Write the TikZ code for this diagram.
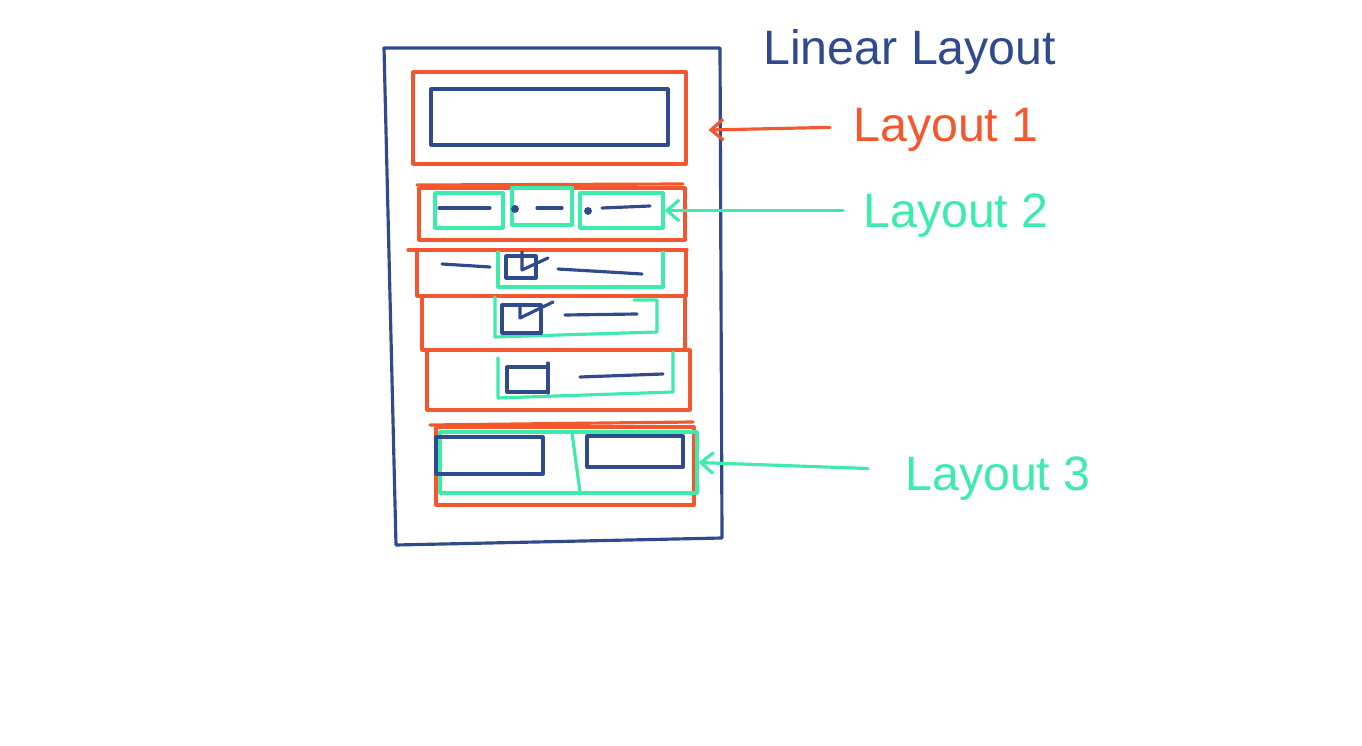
\documentclass[tikz,border=0pt]{standalone}
\usepackage{fontspec}
\setmainfont{Liberation Sans}
\usepackage{tikz}
\usetikzlibrary{calc}
\usetikzlibrary{fit}
\usetikzlibrary{arrows.meta}
\definecolor{navy}{RGB}{47,74,143}
\definecolor{tomato}{RGB}{244,87,46}
\definecolor{mint}{RGB}{61,235,170}
\tikzset{
  pen/.style={line width=1.8pt,line cap=round,line join=round},
  nbox/.style={pen,draw=navy,inner sep=0pt},
  obox/.style={pen,draw=tomato,inner sep=0pt},
  gbox/.style={pen,draw=mint,inner sep=0pt},
  lbl/.style={anchor=base west,inner sep=0pt,font=\fontsize{27.5}{30}\selectfont},
  dot/.style={circle,fill=navy,inner sep=0pt,minimum size=4.5pt}
}
\begin{document}
\begin{tikzpicture}[x=0.02cm,y=-0.02cm,>={Straight Barb[length=7pt,width=12pt,line width=1.8pt]}]
\useasboundingbox (0,0) rectangle (1362,746);
\draw [pen,navy] (384,48) -- (720,48) -- (722,538) -- (396,545) -- cycle;
\draw node [lbl,text=navy] (lin) at (763,65) {Linear Layout};
\draw node [obox,fit={(413,72) (686,164)}] (l1box) {};
\draw node [nbox,fit={(431,89) (668,145)}] (l1in) {};
\draw [pen,tomato] (417,185) -- (683,184);
\draw node [obox,fit={(419,188) (685,240)}] (l2box) {};
\draw node [gbox,fit={(435,193) (503,228)}] (l2a) {};
\draw node [gbox,fit={(512,188) (572,225)}] (l2b) {};
\draw node [gbox,fit={(580,193) (663,228)}] (l2c) {};
\draw [pen,navy] (439,208) -- (490,208);
\draw node [dot] (d1) at (515,209) {};
\draw [pen,navy] (537,208) -- (562,208);
\draw node [dot] (d2) at (588,211) {};
\draw [pen,navy] (602,208) -- (650,206);
\draw [pen,tomato] (408,250) -- (687,250);
\draw node [obox,fit={(417,250) (686,296)}] (r3box) {};
\draw [pen,mint] (498,252) -- (498,287) -- (663,287) -- (663,252);
\draw [pen,navy] (442,264) -- (490,267);
\draw [pen,navy] (506,256) rectangle (536,278);
\draw [pen,navy] (522,252) -- (522,270) -- (548,258);
\draw [pen,navy] (558,269) -- (642,274);
\draw node [obox,fit={(422,296) (685,350)}] (r4box) {};
\draw [pen,mint] (634,300) -- (657,300) -- (657,332) -- (495,337) -- (495,297);
\draw [pen,navy] (502,305) rectangle (541,333);
\draw [pen,navy] (520,305) -- (520,318) -- (553,302);
\draw [pen,navy] (565,315) -- (637,314);
\draw node [obox,fit={(427,350) (690,410)}] (r5box) {};
\draw [pen,mint] (498,358) -- (498,398) -- (673,392) -- (673,352);
\draw [pen,navy] (507,367) rectangle (548,392);
\draw [pen,navy] (548,363) -- (548,393);
\draw [pen,navy] (580,377) -- (663,374);
\draw [pen,tomato] (430,425) -- (693,422);
\draw node [obox,fit={(436,427) (694,505)}] (l3box) {};
\draw node [gbox,fit={(440,432) (697,493)}] (l3g) {};
\draw [pen,mint] (572,433) -- (580,492);
\draw node [nbox,fit={(436,437) (543,474)}] (l3a) {};
\draw node [nbox,fit={(587,436) (683,467)}] (l3b) {};
\draw node [lbl,text=tomato] (lay1) at (853,142) {Layout 1};
\draw node [lbl,text=mint] (lay2) at (863,228) {Layout 2};
\draw node [lbl,text=mint] (lay3) at (905,490) {Layout 3};
\draw [pen,tomato,->] ($(lay1.west)+(-23,-3)$) -- ($(l1box.east)+(21,12)$);
\draw [pen,mint,->] ($(l2c.east -| lay2.west)+(-20,0)$) -- (l2c.east);
\draw [pen,mint,->] ($(l3g.east -| lay3.west)+(-37,6)$) -- (l3g.east);
\end{tikzpicture}
\end{document}
